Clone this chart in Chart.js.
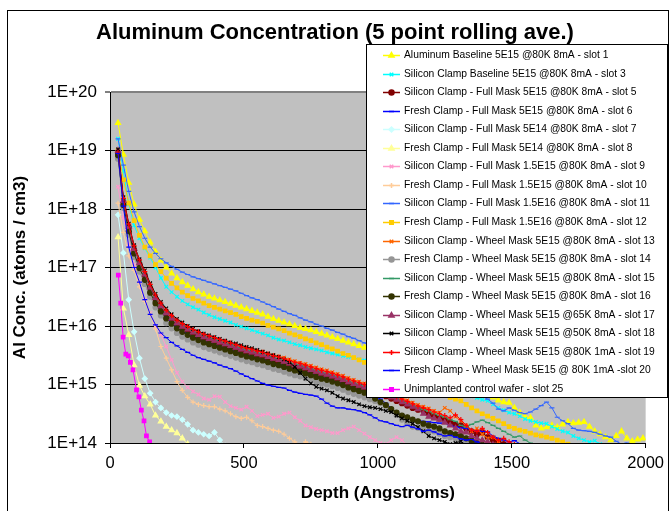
<!DOCTYPE html>
<html>
<head>
<meta charset="utf-8">
<script src="https://cdn.jsdelivr.net/npm/chart.js@4.4.0/dist/chart.umd.min.js"></script>
<style>
html,body{margin:0;padding:0;background:#fff;}
canvas{display:block;}
</style>
</head>
<body>
<canvas id="c" width="670" height="511"></canvas>
<script>
// Depth grid (Angstroms) shared by most series
const depth = [30,50,70,90,110,130,150,170,190,210,230,250,270,290,310,330,350,370,390,410,430,450,470,490,510,530,550,570,590,610,630,650,670,690,710,730,750,770,790,810,830,850,870,890,910,930,950,970,990,1010,1030,1050,1070,1090,1110,1130,1150,1170,1190,1210,1230,1250,1270,1290,1310,1330,1350,1370,1390,1410,1430,1450,1470,1490,1510,1530,1550,1570,1590,1610,1630,1650,1670,1690,1710,1730,1750,1770,1790,1810,1830,1850,1870,1890,1910,1930,1950,1970,1990];
const depthSlot25 = [31,40,49,59,68,76,86,99,108,117,127,136,148,157];

// Al concentration, stored as log10(atoms/cm3)
const logSlot1 = [19.47,18.93,18.45,18.08,17.82,17.62,17.43,17.27,17.12,17.00,
16.90,16.82,16.75,16.69,16.63,16.58,16.54,16.50,16.47,16.44,
16.41,16.38,16.35,16.32,16.29,16.26,16.23,16.20,16.16,16.12,
16.09,16.06,16.03,16.00,15.97,15.95,15.93,15.90,15.87,15.84,
15.81,15.78,15.75,15.72,15.69,15.66,15.63,15.60,15.57,15.54,
15.50,15.47,15.44,15.41,15.38,15.34,15.31,15.27,15.24,15.20,
15.17,15.13,15.10,15.06,15.02,14.98,14.94,14.90,14.86,14.82,
14.78,14.73,14.70,14.69,14.60,14.52,14.45,14.43,14.30,14.25,
14.27,14.30,14.27,14.32,14.36,14.34,14.35,14.36,14.28,14.20,
14.15,14.10,14.05,14.12,14.20,14.08,14.03,14.06,14.08];
const logSlot3 = [19.20,18.65,18.08,17.72,17.50,17.33,17.17,17.00,16.82,16.67,
16.58,16.50,16.43,16.37,16.32,16.28,16.23,16.19,16.15,16.12,
16.09,16.06,16.02,15.99,15.96,15.93,15.90,15.87,15.84,15.80,
15.77,15.75,15.72,15.69,15.67,15.64,15.62,15.60,15.58,15.55,
15.53,15.51,15.49,15.47,15.45,15.43,15.41,15.38,15.35,15.32,
15.29,15.26,15.23,15.20,15.17,15.14,15.11,15.08,15.05,15.02,
14.99,14.96,14.93,14.89,14.86,14.83,14.80,14.77,14.74,14.72,
14.66,14.60,14.56,14.52,14.50,14.46,14.41,14.38,14.36,14.34,
14.33,14.28,14.24,14.20,14.18,14.12,14.08,14.05,14.02,14.04,
13.98,13.95];
const logSlot5 = [18.95,18.12,17.68,17.30,17.06,16.86,16.64,16.46,16.32,16.20,
16.11,16.03,15.97,15.92,15.87,15.83,15.79,15.76,15.73,15.70,
15.67,15.64,15.61,15.58,15.55,15.53,15.50,15.48,15.45,15.42,
15.40,15.37,15.34,15.31,15.29,15.26,15.23,15.20,15.17,15.15,
15.12,15.09,15.06,15.02,14.99,14.96,14.93,14.90,14.87,14.83,
14.80,14.76,14.72,14.68,14.64,14.60,14.57,14.55,14.50,14.45,
14.42,14.40,14.35,14.32,14.30,14.25,14.20,14.15,14.18,14.10,
14.05,14.02,13.98];
const logSlot6 = [18.90,18.08,17.62,17.25,17.00,16.80,16.58,16.40,16.26,16.15,
16.06,15.98,15.92,15.87,15.82,15.78,15.74,15.71,15.68,15.65,
15.62,15.59,15.56,15.53,15.50,15.48,15.45,15.43,15.40,15.37,
15.35,15.32,15.29,15.26,15.24,15.21,15.18,15.15,15.12,15.10,
15.07,15.04,15.01,14.97,14.94,14.91,14.88,14.84,14.80,14.75,
14.68,14.60,14.52,14.48,14.45,14.40,14.38,14.37,14.36,14.35,
14.34,14.34,14.30,14.28,14.26,14.25,14.22,14.21,14.20,14.19,
14.12,14.08,14.05,14.02,14.04,13.99,13.96];
const logSlot7 = [17.90,17.25,16.45,15.90,15.45,15.10,14.85,14.70,14.60,14.52,
14.47,14.45,14.40,14.32,14.22,14.18,14.15,14.12,14.18,14.05,13.95];
const logSlot8 = [17.52,16.30,15.85,15.33,14.98,14.80,14.66,14.47,14.37,14.28,
14.22,14.17,14.08,13.98,13.90];
const logSlot9 = [18.38,17.85,17.40,17.05,16.75,16.45,16.22,16.00,15.85,15.65,
15.42,15.20,15.05,14.95,14.88,14.83,14.76,14.74,14.80,14.79,
14.70,14.63,14.60,14.57,14.62,14.55,14.46,14.48,14.50,14.43,
14.45,14.50,14.52,14.44,14.38,14.30,14.27,14.24,14.22,14.20,
14.17,14.17,14.22,14.25,14.28,14.22,14.16,14.10,14.05,14.00,
13.98,14.05,14.10,14.05,13.95];
const logSlot10 = [18.10,17.60,17.20,16.95,16.67,16.42,16.20,15.95,15.65,15.45,
15.25,15.05,14.90,14.78,14.70,14.66,14.64,14.62,14.62,14.58,
14.55,14.50,14.45,14.42,14.44,14.38,14.30,14.28,14.25,14.22,
14.20,14.15,14.08,14.02,13.95,14.02,13.98,13.90];
const logSlot11 = [19.20,18.75,18.30,17.95,17.70,17.50,17.35,17.24,17.15,17.08,
17.02,16.97,16.92,16.88,16.84,16.81,16.78,16.75,16.72,16.69,
16.66,16.63,16.60,16.56,16.52,16.48,16.45,16.41,16.37,16.33,
16.29,16.25,16.21,16.18,16.14,16.10,16.07,16.03,16.00,15.96,
15.93,15.89,15.86,15.82,15.79,15.75,15.71,15.68,15.64,15.60,
15.56,15.52,15.48,15.44,15.40,15.36,15.32,15.28,15.24,15.20,
15.16,15.12,15.08,15.04,15.00,14.96,14.92,14.86,14.80,14.75,
14.68,14.58,14.55,14.60,14.56,14.52,14.50,14.53,14.58,14.64,
14.70,14.60,14.44,14.38,14.33,14.25,14.22,14.21,14.20,14.18,
14.15,14.12,14.10,14.03,13.98,14.00,13.95];
const logSlot12 = [19.00,18.50,18.10,17.80,17.55,17.35,17.20,17.05,16.93,16.82,
16.73,16.65,16.58,16.52,16.47,16.43,16.39,16.35,16.32,16.29,
16.26,16.23,16.20,16.16,16.13,16.10,16.08,16.05,16.01,15.98,
15.95,15.92,15.88,15.85,15.82,15.78,15.75,15.71,15.68,15.64,
15.61,15.57,15.53,15.50,15.46,15.42,15.38,15.35,15.31,15.28,
15.24,15.20,15.17,15.13,15.09,15.05,15.01,14.97,14.93,14.89,
14.85,14.81,14.78,14.75,14.72,14.66,14.60,14.55,14.50,14.46,
14.42,14.38,14.33,14.28,14.25,14.22,14.20,14.17,14.14,14.12,
14.10,14.08,14.05,14.02,13.98];
const logSlot13 = [18.98,18.16,17.71,17.33,17.09,16.89,16.67,16.49,16.35,16.23,
16.14,16.06,16.00,15.95,15.90,15.86,15.83,15.80,15.77,15.74,
15.72,15.69,15.67,15.64,15.62,15.60,15.58,15.56,15.53,15.50,
15.48,15.46,15.43,15.40,15.37,15.35,15.32,15.29,15.26,15.24,
15.21,15.18,15.15,15.11,15.08,15.05,15.02,14.99,14.96,14.92,
14.89,14.85,14.81,14.77,14.73,14.69,14.65,14.62,14.59,14.55,
14.52,14.60,14.55,14.45,14.38,14.30,14.20,14.25,14.15,14.08,
14.10,14.02,13.96];
const logSlot14 = [18.86,18.02,17.56,17.18,16.93,16.72,16.50,16.32,16.18,16.05,
15.96,15.88,15.82,15.77,15.72,15.68,15.64,15.61,15.58,15.55,
15.52,15.49,15.46,15.43,15.40,15.38,15.35,15.33,15.30,15.27,
15.25,15.22,15.19,15.16,15.14,15.11,15.08,15.05,15.02,15.00,
14.97,14.94,14.91,14.87,14.84,14.81,14.78,14.75,14.72,14.68,
14.63,14.56,14.48,14.40,14.34,14.28,14.26,14.24,14.20,14.20,
14.16,14.12,14.10,14.08,14.05,14.02,13.98];
const logSlot15 = [18.96,18.16,17.72,17.35,17.10,16.90,16.68,16.50,16.36,16.24,
16.15,16.07,16.01,15.96,15.91,15.87,15.83,15.80,15.77,15.74,
15.71,15.68,15.65,15.62,15.59,15.57,15.54,15.52,15.49,15.46,
15.44,15.41,15.38,15.35,15.33,15.30,15.27,15.24,15.21,15.19,
15.16,15.13,15.10,15.06,15.03,15.00,14.97,14.94,14.91,14.87,
14.84,14.80,14.76,14.72,14.68,14.64,14.60,14.57,14.54,14.50,
14.47,14.44,14.40,14.37,14.30,14.27,14.32,14.36,14.39,14.35,
14.30,14.25,14.20,14.15,14.10,14.12,14.05,14.00,13.96];
const logSlot16 = [18.92,18.07,17.62,17.24,16.99,16.79,16.57,16.39,16.25,16.13,
16.04,15.96,15.90,15.85,15.80,15.76,15.72,15.69,15.66,15.63,
15.60,15.57,15.54,15.51,15.48,15.46,15.43,15.41,15.38,15.35,
15.33,15.30,15.27,15.24,15.22,15.19,15.16,15.13,15.10,15.08,
15.05,15.02,14.99,14.95,14.92,14.89,14.86,14.82,14.76,14.70,
14.65,14.58,14.52,14.47,14.44,14.40,14.37,14.33,14.30,14.28,
14.25,14.20,14.17,14.15,14.12,14.08,14.04,14.00,13.97];
const logSlot17 = [19.00,18.14,17.70,17.32,17.08,16.88,16.66,16.48,16.34,16.22,
16.13,16.05,15.99,15.94,15.89,15.85,15.81,15.78,15.75,15.72,
15.69,15.66,15.63,15.60,15.57,15.55,15.52,15.50,15.47,15.44,
15.42,15.39,15.36,15.33,15.31,15.28,15.25,15.22,15.19,15.17,
15.14,15.11,15.08,15.04,15.01,14.98,14.95,14.92,14.89,14.85,
14.82,14.78,14.74,14.70,14.66,14.62,14.58,14.50,14.45,14.42,
14.40,14.35,14.30,14.25,14.20,14.18,14.12,14.08,14.05,14.02,
13.97];
const logSlot18 = [19.02,18.20,17.75,17.38,17.14,16.95,16.73,16.55,16.41,16.30,
16.20,16.12,16.06,16.00,15.95,15.91,15.87,15.84,15.81,15.78,
15.75,15.72,15.70,15.67,15.64,15.62,15.59,15.56,15.53,15.50,
15.47,15.43,15.38,15.30,15.20,15.10,15.02,14.96,14.93,14.90,
14.86,14.80,14.76,14.73,14.70,14.66,14.63,14.61,14.60,14.58,
14.55,14.53,14.47,14.42,14.38,14.33,14.27,14.20,14.12,14.08,
14.05,14.02,13.98,14.00,14.03,13.96,13.92];
const logSlot19 = [18.97,18.18,17.74,17.37,17.13,16.93,16.71,16.53,16.39,16.27,
16.18,16.10,16.04,15.99,15.94,15.90,15.86,15.83,15.80,15.77,
15.74,15.71,15.68,15.65,15.62,15.60,15.57,15.55,15.52,15.49,
15.47,15.44,15.41,15.38,15.36,15.33,15.30,15.27,15.24,15.22,
15.19,15.16,15.13,15.09,15.06,15.03,15.00,14.97,14.94,14.90,
14.87,14.83,14.79,14.75,14.71,14.67,14.63,14.60,14.57,14.53,
14.50,14.47,14.43,14.48,14.40,14.30,14.22,14.20,14.25,14.18,
14.10,14.05,14.08,14.02,13.98];
const logSlot20 = [18.95,18.05,17.35,17.00,16.75,16.45,16.20,16.02,15.88,15.80,
15.72,15.66,15.60,15.55,15.50,15.46,15.43,15.40,15.37,15.33,
15.30,15.27,15.23,15.18,15.14,15.10,15.06,15.02,14.99,14.97,
14.95,14.94,14.90,14.87,14.85,14.83,14.82,14.80,14.75,14.68,
14.63,14.60,14.60,14.58,14.57,14.55,14.52,14.48,14.43,14.38,
14.36,14.33,14.30,14.28,14.30,14.27,14.24,14.20,14.22,14.19,
14.15,14.12,14.13,14.10,14.07,14.05,14.06,14.02,13.98];
const logSlot25 = [16.87,16.39,15.81,15.52,15.49,15.38,15.25,14.91,14.79,14.56,14.38,14.12,14.02,13.80];

const seriesLabels = [
  "Aluminum Baseline 5E15 @80K 8mA - slot 1",
  "Silicon Clamp Baseline 5E15 @80K 8mA - slot 3",
  "Silicon Clamp - Full Mask 5E15 @80K 8mA - slot 5",
  "Fresh Clamp - Full Mask 5E15 @80K 8mA - slot 6",
  "Silicon Clamp - Full Mask 5E14 @80K 8mA - slot 7",
  "Fresh Clamp - Full Mask 5E14 @80K 8mA - slot 8",
  "Silicon Clamp - Full Mask 1.5E15 @80K 8mA - slot 9",
  "Fresh Clamp - Full Mask 1.5E15 @80K 8mA - slot 10",
  "Silicon Clamp - Full Mask 1.5E16 @80K 8mA - slot 11",
  "Fresh Clamp - Full Mask 1.5E16 @80K 8mA - slot 12",
  "Silicon Clamp - Wheel Mask 5E15 @80K 8mA - slot 13",
  "Fresh Clamp - Wheel Mask 5E15 @80K 8mA - slot 14",
  "Silicon Clamp - Wheel Mask 5E15 @80K 8mA - slot 15",
  "Fresh Clamp - Wheel Mask 5E15 @80K 8mA - slot 16",
  "Silicon Clamp - Wheel Mask 5E15 @65K 8mA - slot 17",
  "Silicon Clamp - Wheel Mask 5E15 @50K 8mA - slot 18",
  "Silicon Clamp - Wheel Mask 5E15 @80K 1mA - slot 19",
  "Fresh Clamp - Wheel Mask 5E15 @ 80K 1mA -slot 20",
  "Unimplanted control wafer - slot 25"
];
const seriesLogs = [logSlot1, logSlot3, logSlot5, logSlot6, logSlot7, logSlot8, logSlot9, logSlot10,
  logSlot11, logSlot12, logSlot13, logSlot14, logSlot15, logSlot16, logSlot17, logSlot18,
  logSlot19, logSlot20, logSlot25];
const seriesDepths = [depth, depth, depth, depth, depth, depth, depth, depth, depth, depth,
  depth, depth, depth, depth, depth, depth, depth, depth, depthSlot25];
const yTickExponents = [14, 15, 16, 17, 18, 19, 20];
const xTickValues = [0, 500, 1000, 1500, 2000];

// styles
const seriesColors = ['#FFFF00','#00FFFF','#800000','#0000FF','#CCFFFF','#FFFF99','#FF99CC','#FFCC99',
  '#3366FF','#FFCC00','#FF6600','#969696','#339966','#333300','#993366','#000000','#FF0000','#0000FF','#FF00FF'];
const seriesMarkers = ['triangle','crossRot','circle','line','rectRot','triangle','crossRot','cross',
  'line','rect','crossRot','circle','line','circle','triangle','crossRot','cross','line','rect'];

const FONT = '"Liberation Sans", Arial, sans-serif';

const datasets = seriesLogs.map((arr, k) => {
  const xs = seriesDepths[k];
  const col = seriesColors[k];
  return {
    label: seriesLabels[k],
    data: arr.map((v, i) => ({x: xs[i], y: Math.pow(10, v)})),
    borderColor: col,
    backgroundColor: col,
    pointBackgroundColor: col,
    pointBorderColor: col,
    pointStyle: seriesMarkers[k],
    pointRadius: seriesMarkers[k] === 'triangle' ? 3 : 2.5,
    pointBorderWidth: 1.2,
    borderWidth: 1,
    tension: 0,
    fill: false,
    order: seriesLogs.length - k
  };
});

const framePlugin = {
  id: 'framePlugin',
  beforeDraw(chart) {
    const {ctx, chartArea: a} = chart;
    ctx.save();
    ctx.fillStyle = '#ffffff';
    ctx.fillRect(0, 0, chart.width, chart.height);
    ctx.fillStyle = '#C0C0C0';
    ctx.fillRect(a.left, a.top, a.right - a.left, a.bottom - a.top);
    ctx.strokeStyle = '#000';
    ctx.lineWidth = 1;
    ctx.strokeRect(7.5, 10.5, 661, 520);
    ctx.restore();
  },
  afterDraw(chart) {
    const ctx = chart.ctx;
    ctx.save();
    const L = 366, T = 44, R = 668, B = 398;
    ctx.fillStyle = '#ffffff';
    ctx.fillRect(L, T, R - L, B - T);
    ctx.strokeStyle = '#000';
    ctx.lineWidth = 1;
    ctx.strokeRect(L + 0.5, T + 0.5, R - L - 1, B - T - 1);
    const dp = Chart.helpers && Chart.helpers.drawPoint;
    chart.data.datasets.forEach((ds, i) => {
      const y = Math.round(55 + i * 18.55) + 0.5;
      ctx.strokeStyle = ds.borderColor;
      ctx.lineWidth = 1.5;
      ctx.beginPath();
      ctx.moveTo(383, y);
      ctx.lineTo(400, y);
      ctx.stroke();
      ctx.fillStyle = ds.pointBackgroundColor;
      ctx.strokeStyle = ds.pointBorderColor;
      if (dp) {
        dp(ctx, {pointStyle: ds.pointStyle, radius: ds.pointRadius, rotation: 0, borderWidth: 1.2}, 391.5, y);
      } else {
        ctx.fillRect(389.5, y - 2, 4, 4);
      }
      ctx.fillStyle = '#000';
      ctx.font = '10.3px ' + FONT;
      ctx.textAlign = 'left';
      ctx.textBaseline = 'middle';
      ctx.fillText(ds.label, 404, y);
    });
    ctx.restore();
  }
};

new Chart(document.getElementById('c'), {
  type: 'line',
  data: {datasets},
  plugins: [framePlugin],
  options: {
    responsive: false,
    animation: false,
    devicePixelRatio: 1,
    layout: {padding: {top: 10, right: 21, left: 21, bottom: 0}},
    plugins: {
      legend: {display: false},
      tooltip: {enabled: false},
      title: {
        display: true,
        text: 'Aluminum Concentration (5 point rolling ave.)',
        color: '#000',
        font: {family: FONT, size: 22, weight: 'bold'},
        padding: {top: 9.5, bottom: 46.1}
      }
    },
    scales: {
      x: {
        type: 'linear',
        min: 0, max: 2000,
        afterBuildTicks: s => { s.ticks = xTickValues.map(v => ({value: v})); },
        ticks: {color: '#000', font: {family: FONT, size: 16.5}, padding: 6, maxRotation: 0, autoSkip: false,
          callback: v => String(v)},
        grid: {drawOnChartArea: false, drawTicks: true, tickLength: 5, color: '#000'},
        border: {color: '#000', width: 1},
        title: {display: true, text: 'Depth (Angstroms)', color: '#000',
          font: {family: FONT, size: 17, weight: 'bold'}, padding: {top: 0, bottom: 7}},
        afterFit: s => { s.height = 68; }
      },
      y: {
        type: 'logarithmic',
        min: 1e14, max: 1e20,
        afterBuildTicks: s => { s.ticks = yTickExponents.map(e => ({value: Math.pow(10, e)})); },
        ticks: {color: '#000', font: {family: FONT, size: 17}, padding: 8, autoSkip: false,
          callback: v => '1E+' + Math.round(Math.log10(v))},
        grid: {
          color: c => (c.tick && c.tick.value >= 1e20) ? '#808080' : '#000',
          lineWidth: c => (c.tick && c.tick.value >= 1e20) ? 2 : 1,
          tickLength: 5, drawTicks: true
        },
        border: {color: '#000', width: 1},
        title: {display: true, text: 'Al Conc. (atoms / cm3)', color: '#000',
          font: {family: FONT, size: 17, weight: 'bold'}, padding: {top: -11.2, bottom: 0}},
        afterFit: s => { s.width = 89; }
      }
    }
  }
});
</script>
</body>
</html>
